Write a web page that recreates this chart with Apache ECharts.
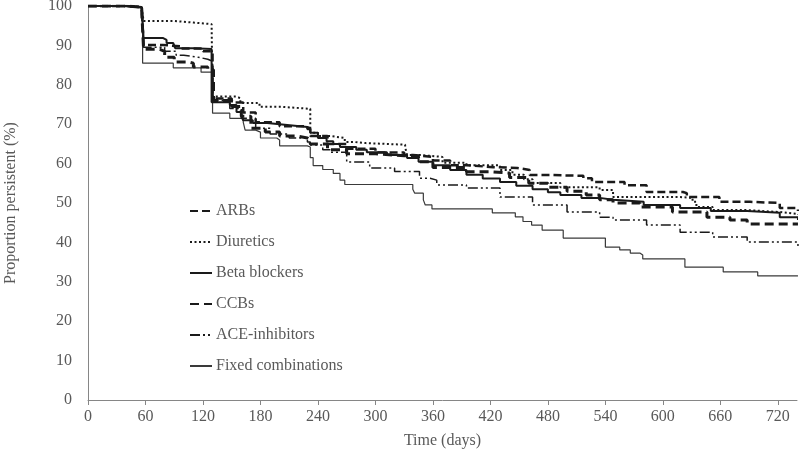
<!DOCTYPE html>
<html>
<head>
<meta charset="utf-8">
<script src="https://cdn.jsdelivr.net/npm/echarts@6/dist/echarts.min.js"></script>
<style>html,body{margin:0;padding:0;background:#fff}#c{width:800px;height:457px}</style>
</head>
<body>
<div id="c"></div>
<script>
const seriesNames = ["ARBs", "Diuretics", "Beta blockers", "CCBs", "ACE-inhibitors", "Fixed combinations"];
const xTicks = [0, 60, 120, 180, 240, 300, 360, 420, 480, 540, 600, 660, 720];

const arbs = [[0,100],[40,99.7],[56,99.2],[58,90.1],[78,89.8],[96,89.2],[120,88.5],[130,76.5],[150,75.5],[162,73],[175,70.5],[200,69.5],[229,68.8],[232,67],[250,65],[270,63.8],[300,62.8],[330,62.2],[339,61.7],[360,60.8],[378,59.6],[395,59.1],[423,58.9],[448,58.4],[461,57.1],[482,56.9],[517,56.3],[526,55.3],[560,54.5],[583,52.8],[621,52.5],[625,51.5],[659,50.3],[691,50],[722,48.7],[741,48]];
const diuretics = [[0,100],[40,99.7],[56,99.3],[58,96.2],[90,95.8],[110,95.4],[129,95.2],[130,77],[155,76.6],[159,75.4],[179,74.4],[203,73.9],[232,67.8],[240,67],[253,66.5],[268,65.5],[277,65.2],[290,64.8],[331,64.2],[333,62.2],[346,61.7],[370,60.2],[395,59.6],[430,58.4],[443,57.2],[455,56],[464,55.1],[493,54],[534,53.3],[548,51.5],[618,51.3],[631,50.3],[635,49],[652,48.2],[688,47.7],[722,47.2],[741,47]];
const betaBlockers = [[0,100],[40,99.7],[56,99.2],[58,91.9],[78,91.4],[82,90.6],[89,90.1],[91,89.3],[110,89.1],[129,75.6],[148,74.9],[155,73.1],[160,72],[162,71],[172,70.3],[187,69.8],[208,69.3],[229,69],[232,67.8],[240,66.5],[249,65.7],[256,65],[263,64.2],[280,63.5],[291,62.9],[312,62.2],[333,61.4],[345,60.5],[360,59.6],[378,58.4],[395,57.2],[412,56.2],[430,55.3],[447,54.4],[464,53.5],[480,52.7],[493,52],[515,51.3],[534,50.8],[548,50.3],[580,49.5],[618,48.7],[650,48],[688,47.5],[722,46.4],[741,45.7]];
const ccbs = [[0,100],[40,99.7],[56,99],[58,89],[75,88.5],[80,87],[90,85.8],[105,85.5],[110,84.5],[125,83.8],[131,76],[150,74.5],[160,72],[170,69],[185,68],[200,67],[218,66.5],[229,66],[232,65],[250,63.5],[270,62.5],[300,62],[330,61.8],[345,60.5],[360,59],[395,57.9],[423,57.6],[440,56.5],[460,55],[480,54],[500,53],[520,52],[534,50.8],[548,50],[576,49],[610,47.7],[646,46.4],[670,45.7],[688,44.7],[741,44.7]];
const aceInhibitors = [[0,100],[40,99.7],[56,99],[58,89.5],[80,88.5],[92,87.5],[100,87],[115,86.5],[125,86],[130,76],[148,74],[160,71.5],[175,69],[190,67.5],[210,66.5],[229,65.5],[232,64.7],[245,63.5],[253,62.9],[270,60.4],[294,58.9],[320,58],[346,56.3],[357,55.8],[364,54.6],[395,53.8],[430,51.5],[464,49.5],[500,47.7],[534,46.4],[548,45.7],[583,44.4],[618,42.6],[652,41.4],[688,40.1],[741,38.8]];
const fixedCombinations = [[0,100],[30,99.8],[50,99.5],[57,85.5],[89,84.3],[118,83.2],[130,72.8],[148,71.5],[162,70.5],[164,68.5],[175,68],[180,66.5],[197,66],[200,64.5],[229,64.2],[232,61.5],[235,59.5],[245,58.5],[256,57.5],[263,55.8],[268,54.7],[339,53.5],[341,52.5],[350,50.8],[352,49.5],[359,48.5],[422,47.5],[446,46.5],[454,45.3],[463,44.4],[474,43.1],[496,41.1],[540,38.8],[555,38.1],[566,37.3],[576,36.8],[579,35.8],[623,33.7],[663,32.5],[699,31.5],[741,31.5]];

const allData = [arbs, diuretics, betaBlockers, ccbs, aceInhibitors, fixedCombinations];
const styles = [
  {color:'#1a1a1a', width:2.5, type:[8,4]},
  {color:'#1a1a1a', width:2, type:[2,2.5]},
  {color:'#1a1a1a', width:2, type:'solid'},
  {color:'#1a1a1a', width:3, type:[9,5]},
  {color:'#1a1a1a', width:1.5, type:[10,3,2,3,2,3]},
  {color:'#3a3a3a', width:1.2, type:'solid'}
];
const font = 'Liberation Serif';
const txt = '#595959';

const chart = echarts.init(document.getElementById('c'));
chart.setOption({
  animation: false,
  backgroundColor: '#fff',
  grid: {left: 88, right: 3, top: 6, bottom: 57, outerBoundsMode: 'none', containLabel: false},
  legend: {
    orient: 'vertical', left: 189, top: 203, padding: 0, itemGap: 15, itemWidth: 22, itemHeight: 14,
    itemStyle: {opacity: 0},
    textStyle: {fontFamily: font, fontSize: 16, color: txt, padding: [0,0,0,-1]},
    data: seriesNames
  },
  xAxis: {
    type: 'value', min: 0, max: 740, interval: 60,
    name: 'Time (days)', nameLocation: 'middle', nameGap: 33,
    nameTextStyle: {fontFamily: font, fontSize: 16, color: txt},
    axisLine: {show: true, lineStyle: {color: '#868686', width: 1}},
    axisTick: {show: true, length: 5, customValues: xTicks, lineStyle: {color: '#868686'}},
    axisLabel: {customValues: xTicks, fontFamily: font, fontSize: 16, color: txt, margin: 9},
    splitLine: {show: false}
  },
  yAxis: {
    type: 'value', min: 0, max: 100, interval: 10,
    name: 'Proportion persistent (%)', nameLocation: 'middle', nameGap: 69,
    nameTextStyle: {fontFamily: font, fontSize: 16, color: txt},
    axisLine: {show: true, lineStyle: {color: '#868686', width: 1}},
    axisTick: {show: false},
    axisLabel: {fontFamily: font, fontSize: 16, color: txt, margin: 16},
    splitLine: {show: false}
  },
  series: seriesNames.map((n, i) => ({
    name: n, type: 'line', step: 'end', symbol: 'none', data: allData[i],
    color: styles[i].color,
    lineStyle: {color: styles[i].color, width: styles[i].width, type: styles[i].type},
    z: 10 - i
  }))
});
</script>
</body>
</html>
